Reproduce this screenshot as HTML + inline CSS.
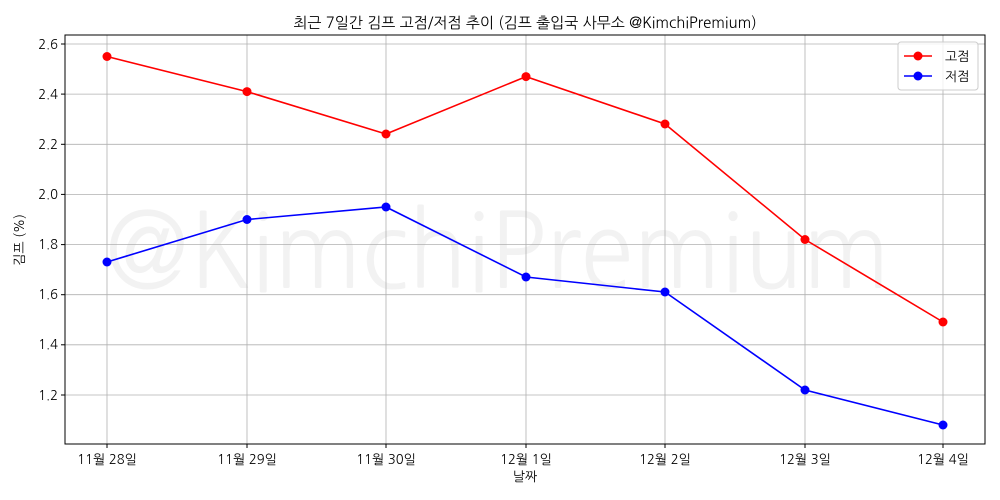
<!DOCTYPE html>
<html><head><meta charset="utf-8"><style>body{margin:0;background:#fff}svg{display:block}text{font-family:"NanumGothic","Noto Sans CJK KR",sans-serif}</style></head><body>
<svg width="1000" height="500" xmlns="http://www.w3.org/2000/svg">
<rect width="1000" height="500" fill="#fff"/>
<text x="105" y="288" font-size="105" fill="#000" fill-opacity="0.05" textLength="785" lengthAdjust="spacingAndGlyphs">@KimchiPremium</text>
<g stroke="#b0b0b0" stroke-width="0.8">
<line x1="107" y1="35" x2="107" y2="444"/><line x1="247" y1="35" x2="247" y2="444"/><line x1="386" y1="35" x2="386" y2="444"/><line x1="526" y1="35" x2="526" y2="444"/><line x1="665" y1="35" x2="665" y2="444"/><line x1="805" y1="35" x2="805" y2="444"/><line x1="943" y1="35" x2="943" y2="444"/>
<line x1="65" y1="44" x2="985" y2="44"/><line x1="65" y1="94.1" x2="985" y2="94.1"/><line x1="65" y1="144.3" x2="985" y2="144.3"/><line x1="65" y1="194.4" x2="985" y2="194.4"/><line x1="65" y1="244.6" x2="985" y2="244.6"/><line x1="65" y1="294.7" x2="985" y2="294.7"/><line x1="65" y1="344.8" x2="985" y2="344.8"/><line x1="65" y1="395" x2="985" y2="395"/>
</g>
<rect x="65" y="35" width="920" height="409" fill="none" stroke="#000" stroke-width="1"/>
<g stroke="#000"><line x1="107" y1="444" x2="107" y2="448"/><line x1="247" y1="444" x2="247" y2="448"/><line x1="386" y1="444" x2="386" y2="448"/><line x1="526" y1="444" x2="526" y2="448"/><line x1="665" y1="444" x2="665" y2="448"/><line x1="805" y1="444" x2="805" y2="448"/><line x1="943" y1="444" x2="943" y2="448"/>
<line x1="61" y1="44" x2="65" y2="44"/><line x1="61" y1="94.1" x2="65" y2="94.1"/><line x1="61" y1="144.3" x2="65" y2="144.3"/><line x1="61" y1="194.4" x2="65" y2="194.4"/><line x1="61" y1="244.6" x2="65" y2="244.6"/><line x1="61" y1="294.7" x2="65" y2="294.7"/><line x1="61" y1="344.8" x2="65" y2="344.8"/><line x1="61" y1="395" x2="65" y2="395"/></g>
<g font-size="13" text-anchor="end" fill="#000"><text x="58" y="49">2.6</text><text x="58" y="99">2.4</text><text x="58" y="149">2.2</text><text x="58" y="199">2.0</text><text x="58" y="249">1.8</text><text x="58" y="299">1.6</text><text x="58" y="349">1.4</text><text x="58" y="400">1.2</text></g>
<g font-size="13" text-anchor="middle" fill="#000"><text x="107" y="464">11월 28일</text><text x="247" y="464">11월 29일</text><text x="386" y="464">11월 30일</text><text x="526" y="464">12월 1일</text><text x="665" y="464">12월 2일</text><text x="805" y="464">12월 3일</text><text x="943" y="464">12월 4일</text></g>
<text x="525" y="481" font-size="13" text-anchor="middle">날짜</text>
<text transform="translate(24,240) rotate(-90)" font-size="13" text-anchor="middle">김프 (%)</text>
<text x="525" y="28" font-size="15" text-anchor="middle">최근 7일간 김프 고점/저점 추이 (김프 출입국 사무소 @KimchiPremium)</text>
<polyline fill="none" stroke="#f00" stroke-width="1.6" points="107,56.5 247,91.6 386,134 526,76.6 665,124 805,239.5 943,322"/>
<g fill="#f00"><circle cx="107" cy="56.5" r="4.5"/><circle cx="247" cy="91.6" r="4.5"/><circle cx="386" cy="134" r="4.5"/><circle cx="526" cy="76.6" r="4.5"/><circle cx="665" cy="124" r="4.5"/><circle cx="805" cy="239.5" r="4.5"/><circle cx="943" cy="322" r="4.5"/></g>
<polyline fill="none" stroke="#00f" stroke-width="1.6" points="107,262 247,219.5 386,207 526,277 665,292 805,390 943,425"/>
<g fill="#00f"><circle cx="107" cy="262" r="4.5"/><circle cx="247" cy="219.5" r="4.5"/><circle cx="386" cy="207" r="4.5"/><circle cx="526" cy="277" r="4.5"/><circle cx="665" cy="292" r="4.5"/><circle cx="805" cy="390" r="4.5"/><circle cx="943" cy="425" r="4.5"/></g>
<rect x="898" y="42" width="80" height="48" rx="3" fill="#fff" fill-opacity="0.8" stroke="#ccc"/>
<line x1="904" y1="56" x2="932" y2="56" stroke="#f00" stroke-width="1.6"/><circle cx="918" cy="56" r="4.5" fill="#f00"/>
<line x1="904" y1="76" x2="932" y2="76" stroke="#00f" stroke-width="1.6"/><circle cx="918" cy="76" r="4.5" fill="#00f"/>
<text x="945" y="61" font-size="13">고점</text><text x="945" y="81" font-size="13">저점</text>
</svg></body></html>
